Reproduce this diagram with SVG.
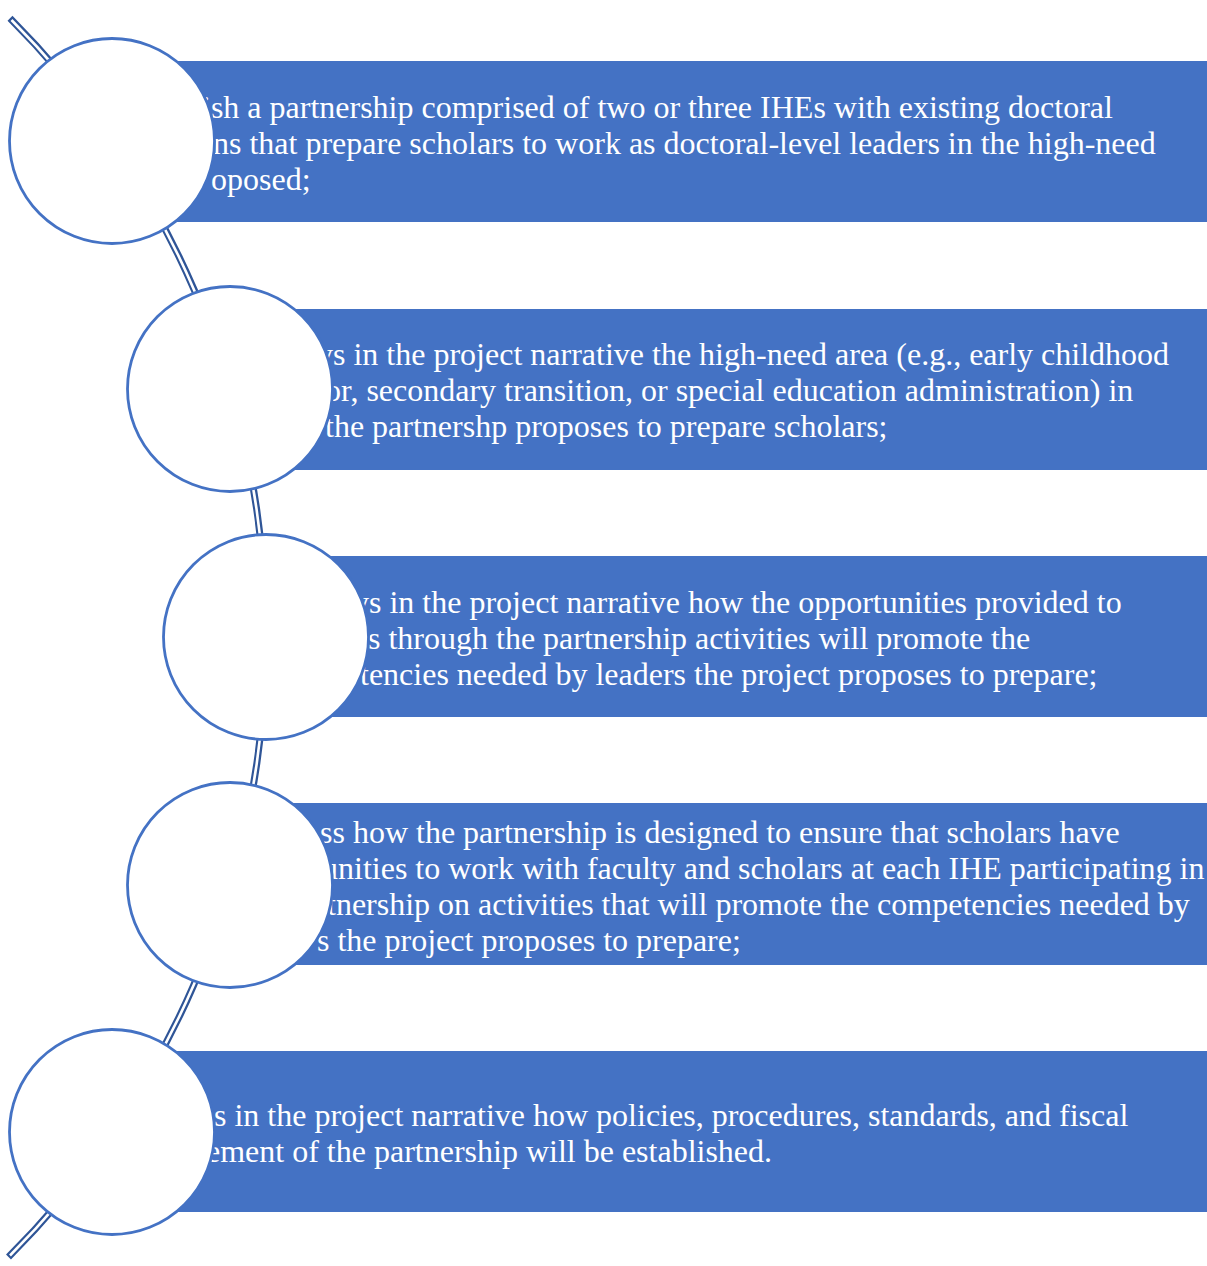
<svg xmlns="http://www.w3.org/2000/svg" width="1207" height="1266" viewBox="0 0 1207 1266">
<style>
.bar{fill:#4472C4;}
.dot{fill:#FFFFFF;stroke:#4472C4;stroke-width:2.8;}
.txt{font-family:"Liberation Serif","Times New Roman",serif;font-size:32px;fill:#FFFFFF;}
.outer{fill:none;stroke:#2F5597;stroke-width:7;}
.inner{fill:none;stroke:#FFFFFF;stroke-width:2.6;}
</style>
<rect width="1207" height="1266" fill="#FFFFFF"/>
<g id="connectors">
<path class="outer" d="M 10 18.3 A 875.7 875.7 0 0 1 8.5 1257"/>
<path class="inner" d="M 11.5 20 A 875.7 875.7 0 0 1 10 1255.5"/>
</g>
<g id="node1">
<rect class="bar" x="112" y="61" width="1095" height="161"/>
<text class="txt" x="202" y="118">ish a partnership comprised of two or three IHEs with existing doctoral</text>
<text class="txt" x="213" y="154">ns that prepare scholars to work as doctoral-level leaders in the high-need</text>
<text class="txt" x="211" y="190">oposed;</text>
<circle class="dot" cx="112" cy="141" r="102.5"/>
</g>
<g id="node2">
<rect class="bar" x="230" y="309" width="977" height="161"/>
<text class="txt" x="317" y="365">ys in the project narrative the high-need area (e.g., early childhood</text>
<text class="txt" x="325" y="401">or, secondary transition, or special education administration) in</text>
<text class="txt" x="325" y="437">the partnershp proposes to prepare scholars;</text>
<circle class="dot" cx="230" cy="389" r="102.5"/>
</g>
<g id="node3">
<rect class="bar" x="266" y="556" width="941" height="161"/>
<text class="txt" x="353" y="613">ys in the project narrative how the opportunities provided to</text>
<text class="txt" x="368" y="649">s through the partnership activities will promote the</text>
<text class="txt" x="360" y="685">tencies needed by leaders the project proposes to prepare;</text>
<circle class="dot" cx="266" cy="637" r="102.5"/>
</g>
<g id="node4">
<rect class="bar" x="230" y="803" width="977" height="162"/>
<text class="txt" x="320" y="843">ss how the partnership is designed to ensure that scholars have</text>
<text class="txt" x="322" y="879">unities to work with faculty and scholars at each IHE participating in</text>
<text class="txt" x="327" y="915">tnership on activities that will promote the competencies needed by</text>
<text class="txt" x="317" y="951">s the project proposes to prepare;</text>
<circle class="dot" cx="230" cy="885" r="102.5"/>
</g>
<g id="node5">
<rect class="bar" x="112" y="1051" width="1095" height="161"/>
<text class="txt" x="214" y="1126">s in the project narrative how policies, procedures, standards, and fiscal</text>
<text class="txt" x="206" y="1162">ement of the partnership will be established.</text>
<circle class="dot" cx="112" cy="1132" r="102.5"/>
</g>
</svg>
